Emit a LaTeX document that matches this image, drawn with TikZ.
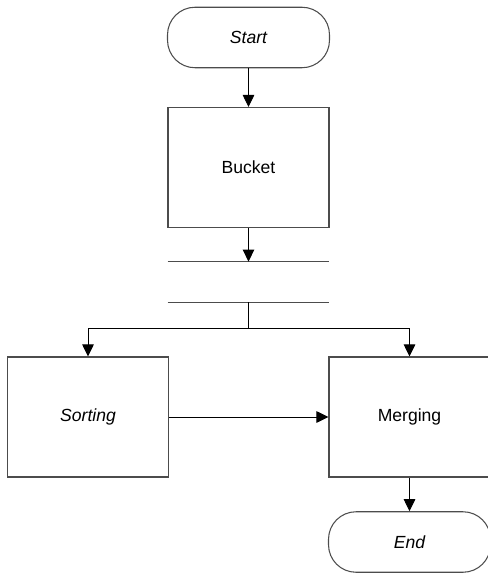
\documentclass[tikz,border=0pt]{standalone}
\usepackage{fontspec}
\setmainfont{Liberation Sans}
\usetikzlibrary{arrows.meta}
\tikzset{
  block/.style={draw=black!70, line width=0.6pt, minimum width=3.22cm, minimum height=2.4cm, inner sep=0pt},
  terminal/.style={draw=black!70, line width=0.6pt, rounded corners=0.55cm, minimum width=3.24cm, minimum height=1.21cm, inner sep=0pt},
  bar/.style={draw=black!70, line width=0.6pt},
  flow/.style={line width=0.5pt, -{Triangle[width=0.23cm,length=0.24cm]}},
}
\begin{document}
\begin{tikzpicture}[x=0.02cm, y=-0.02cm]
		\useasboundingbox (0,0) rectangle (487,573);
		\node[terminal] (start) at (248.5,37.5) {\itshape Start};
		\node[block] (bucket) at (248.5,167.5) {Bucket};
		\node[minimum width=3.22cm, minimum height=0.8cm, inner sep=0pt] (fork) at (248.5,282) {};
		\draw[bar] (fork.north west) -- (fork.north east);
		\draw[bar] (fork.south west) -- (fork.south east);
		\node[block] (sorting) at (88,417) {\itshape Sorting};
		\node[block] (merging) at (409.5,417) {Merging};
		\node[terminal] (end) at (409.5,542) {\itshape End};
		\coordinate (split) at (248.5,328);
		\draw[flow] (start) -- (bucket);
		\draw[flow] (bucket) -- (fork.north);
		\draw[line width=0.5pt] (fork.south) -- (split);
		\draw[flow] (split) -| (sorting.north);
		\draw[flow] (split) -| (merging.north);
		\draw[flow] (sorting) -- (merging);
		\draw[flow] (merging) -- (end);
		\end{tikzpicture}
\end{document}
